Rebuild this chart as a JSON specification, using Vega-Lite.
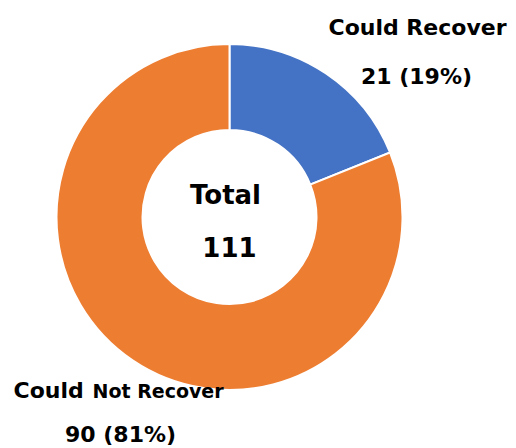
{
  "$schema": "https://vega.github.io/schema/vega-lite/v6.json",
  "autosize": "none",
  "width": 347,
  "height": 346,
  "padding": {"left": 56, "top": 44, "right": 113, "bottom": 58},
  "background": "white",
  "config": {"view": {"stroke": null}, "text": {"font": "DejaVu Sans", "fontWeight": "bold", "color": "#000000"}},
  "data": {"values": [
    {"category": "Could Recover", "value": 21, "rank": 1, "pct": "21 (19%)"},
    {"category": "Could Not Recover", "value": 90, "rank": 2, "pct": "90 (81%)"}
  ]},
  "layer": [
    {
      "mark": {"type": "arc", "outerRadius": 173, "innerRadius": 87, "stroke": "white", "strokeWidth": 2},
      "encoding": {
        "theta": {"field": "value", "type": "quantitative", "stack": true},
        "order": {"field": "rank", "type": "quantitative"},
        "color": {"field": "category", "type": "nominal", "scale": {"domain": ["Could Recover", "Could Not Recover"], "range": ["#4472C4", "#ED7D31"]}, "legend": null}
      }
    },
    {
      "mark": {"type": "text", "radius": 200, "fontSize": 22, "align": "center", "baseline": "middle", "dx": 76, "dy": -23},
      "encoding": {
        "theta": {"field": "value", "type": "quantitative", "stack": true},
        "order": {"field": "rank", "type": "quantitative"},
        "text": {"condition": {"test": "datum.rank === 1", "field": "category"}, "value": ""}
      }
    },
    {
      "mark": {"type": "text", "radius": 200, "fontSize": 22, "align": "center", "baseline": "middle", "dx": 75, "dy": 26},
      "encoding": {
        "theta": {"field": "value", "type": "quantitative", "stack": true},
        "order": {"field": "rank", "type": "quantitative"},
        "text": {"condition": {"test": "datum.rank === 1", "field": "pct"}, "value": ""}
      }
    },
    {
      "mark": {"type": "text", "radius": 200, "fontSize": 22, "align": "left", "baseline": "alphabetic", "dx": -104, "dy": 15},
      "encoding": {
        "theta": {"field": "value", "type": "quantitative", "stack": true},
        "order": {"field": "rank", "type": "quantitative"},
        "text": {"condition": {"test": "datum.rank === 2", "value": "Could"}, "value": ""}
      }
    },
    {
      "mark": {"type": "text", "radius": 200, "fontSize": 19, "align": "left", "baseline": "alphabetic", "dx": -25, "dy": 15},
      "encoding": {
        "theta": {"field": "value", "type": "quantitative", "stack": true},
        "order": {"field": "rank", "type": "quantitative"},
        "text": {"condition": {"test": "datum.rank === 2", "value": "Not Recover"}, "value": ""}
      }
    },
    {
      "mark": {"type": "text", "radius": 200, "fontSize": 22, "align": "center", "baseline": "middle", "dx": 3, "dy": 52},
      "encoding": {
        "theta": {"field": "value", "type": "quantitative", "stack": true},
        "order": {"field": "rank", "type": "quantitative"},
        "text": {"condition": {"test": "datum.rank === 2", "field": "pct"}, "value": ""}
      }
    },
    {
      "data": {"values": [{"t": "Total"}]},
      "mark": {"type": "text", "fontSize": 26, "align": "center", "baseline": "middle", "dx": -4, "dy": -21},
      "encoding": {"text": {"field": "t", "type": "nominal"}}
    },
    {
      "data": {"values": [{"t": "111"}]},
      "mark": {"type": "text", "fontSize": 26, "align": "center", "baseline": "middle", "dx": 0, "dy": 32},
      "encoding": {"text": {"field": "t", "type": "nominal"}}
    }
  ]
}
